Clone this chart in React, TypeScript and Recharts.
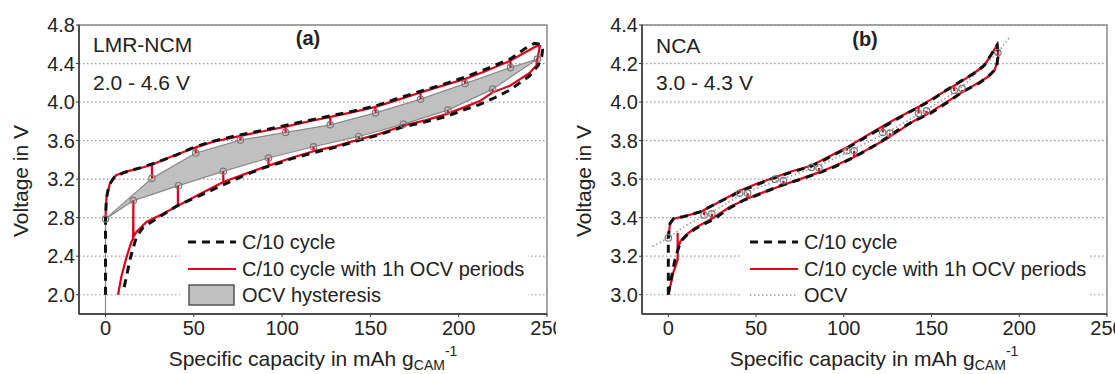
import React from 'react';
import {
  Area,
  CartesianGrid,
  ComposedChart,
  Label,
  Legend,
  Line,
  ReferenceArea,
  Scatter,
  XAxis,
  YAxis,
} from 'recharts';

// [capacity in mAh/g, voltage in V]

// panel (a) LMR-NCM, 2.0 - 4.6 V
const lmrCycle: number[][] = [
  [0, 2.0], [0, 2.79], [0.5, 3.0], [2, 3.14], [5, 3.22], [10, 3.265], [20, 3.32], [30, 3.38],
  [40, 3.45], [50, 3.53], [60, 3.59], [75, 3.655], [90, 3.71], [100, 3.75], [115, 3.81],
  [127, 3.855], [140, 3.905], [153, 3.96], [165, 4.035], [178, 4.11], [190, 4.175],
  [203, 4.255], [215, 4.34], [229, 4.445], [238, 4.56], [243, 4.61], [246.5, 4.6],
  [247.5, 4.54], [247, 4.47], [245, 4.38], [240, 4.27], [234.6, 4.2], [229, 4.125],
  [221, 4.05], [212, 3.975], [203, 3.92], [193, 3.85], [180, 3.79], [168, 3.74], [155, 3.66],
  [143, 3.6], [130, 3.53], [118, 3.475], [105, 3.41], [99, 3.37], [90, 3.32], [80, 3.25],
  [66.6, 3.14], [53.4, 3.03], [40.2, 2.92], [28.9, 2.79], [21.3, 2.7], [17.5, 2.6],
  [15.6, 2.48], [13.8, 2.36], [11.9, 2.19], [10, 2.03],
];

const lmrCycleOcv: number[][] = [
  [0, 2.787], [0.5, 3.0], [2.4, 3.15], [6, 3.24], [12, 3.28], [19, 3.31],
  [26.3, 3.35], [26.3, 3.208], [26.3, 3.35], [34.5, 3.415], [42, 3.467],
  [51.1, 3.53], [51.1, 3.471], [51.1, 3.53], [61, 3.588],
  [76.4, 3.648], [76.4, 3.605], [76.4, 3.648], [90, 3.7],
  [102, 3.745], [102, 3.685], [102, 3.745], [115, 3.8],
  [127.3, 3.845], [127.3, 3.764], [127.3, 3.845], [140, 3.895],
  [152.9, 3.95], [152.9, 3.888], [152.9, 3.95], [165, 4.02],
  [178.4, 4.1], [178.4, 4.03], [178.4, 4.1], [190, 4.165],
  [203.6, 4.24], [203.6, 4.192], [203.6, 4.24], [215, 4.32],
  [229.3, 4.43], [229.3, 4.358], [229.3, 4.43], [238, 4.52], [244, 4.58], [246, 4.58],
  [244.6, 4.447], [244, 4.38], [240, 4.3], [235, 4.24], [229, 4.17],
  [219.2, 4.1], [219.2, 4.134], [219.2, 4.1], [212, 4.01], [203, 3.945],
  [193.9, 3.88], [193.9, 3.916], [193.9, 3.88], [181, 3.81],
  [168.7, 3.755], [168.7, 3.771], [168.7, 3.755], [155, 3.67],
  [143.4, 3.61], [143.4, 3.643], [143.4, 3.61], [130, 3.54],
  [117.8, 3.49], [117.8, 3.536], [117.8, 3.49], [105, 3.42],
  [92.3, 3.34], [92.3, 3.419], [92.3, 3.34], [80, 3.26],
  [66.7, 3.17], [66.7, 3.281], [66.7, 3.17], [53, 3.04],
  [41, 2.925], [41, 3.132], [41, 2.925], [32.6, 2.84], [23.2, 2.756], [17.5, 2.652],
  [15.8, 2.6], [15.8, 2.977], [15.6, 2.58], [14.7, 2.55], [11.9, 2.39], [9, 2.19], [7.1, 2.0],
];

const lmrOcvCharge: number[][] = [
  [0, 2.787], [26.3, 3.208], [51.1, 3.471], [76.4, 3.605], [102, 3.685], [127.3, 3.764],
  [152.9, 3.888], [178.4, 4.03], [203.6, 4.192], [229.3, 4.358], [244.6, 4.447],
];

const lmrOcvDischarge: number[][] = [
  [15.8, 2.977], [41.4, 3.132], [66.7, 3.281], [92.3, 3.419], [117.8, 3.536],
  [143.4, 3.643], [168.7, 3.771], [193.9, 3.916], [219.2, 4.134],
];

// panel (b) NCA, 3.0 - 4.3 V
const ncaCycle: number[][] = [
  [0, 3.0], [0, 3.3], [1, 3.37], [3, 3.395], [8.5, 3.405], [18, 3.43], [27.6, 3.475],
  [40.8, 3.535], [50, 3.57], [59.8, 3.605], [70, 3.635], [80.7, 3.665], [90, 3.705],
  [101.6, 3.76], [112, 3.815], [122.4, 3.87], [130, 3.91], [139.5, 3.958], [150, 4.01],
  [158.5, 4.062], [167, 4.11], [175.6, 4.157], [180, 4.19], [183.2, 4.235], [187.4, 4.296],
  [188, 4.25], [187.4, 4.2], [186, 4.166], [182, 4.13], [177.5, 4.1], [168, 4.055],
  [158.5, 3.995], [150, 3.945], [139.5, 3.9], [130, 3.85], [120.6, 3.79], [110, 3.735],
  [105.4, 3.712], [95, 3.665], [84.5, 3.628], [75, 3.598], [63.6, 3.565], [50, 3.515],
  [42.7, 3.49], [35, 3.45], [25.6, 3.39], [20, 3.365], [15, 3.34], [10, 3.305], [7, 3.275],
  [5, 3.22], [3.5, 3.17], [2, 3.1], [0.5, 3.03], [0, 3.0],
];

const ncaCycleOcv: number[][] = [
  [0, 3.295], [1, 3.37], [3, 3.395], [8.5, 3.405], [18, 3.43],
  [20.4, 3.44], [20.4, 3.414], [20.4, 3.44], [27.6, 3.475],
  [40.7, 3.54], [40.7, 3.527], [40.7, 3.54], [50, 3.575],
  [60.9, 3.61], [60.9, 3.6], [60.9, 3.61], [70, 3.64],
  [81.5, 3.67], [81.5, 3.661], [81.5, 3.67], [90, 3.71],
  [101.8, 3.765], [101.8, 3.747], [101.8, 3.765], [112, 3.82],
  [122.2, 3.875], [122.2, 3.842], [122.2, 3.875], [130, 3.915],
  [142.6, 3.975], [142.6, 3.941], [142.6, 3.975], [150, 4.015],
  [162.9, 4.085], [162.9, 4.058], [162.9, 4.085], [170, 4.125], [175.6, 4.16],
  [180, 4.19], [183.2, 4.235], [187.4, 4.296],
  [187.8, 4.257], [188, 4.23], [186, 4.166], [182, 4.13], [177.5, 4.105],
  [167.4, 4.05], [167.4, 4.062], [167.4, 4.05], [158.5, 4.0],
  [147.1, 3.935], [147.1, 3.955], [147.1, 3.935], [139.5, 3.9],
  [126.3, 3.82], [126.3, 3.839], [126.3, 3.82], [120.6, 3.79],
  [105.9, 3.715], [105.9, 3.747], [105.9, 3.715], [95, 3.67],
  [85.9, 3.635], [85.9, 3.658], [85.9, 3.635], [75, 3.6],
  [65.6, 3.57], [65.6, 3.592], [65.6, 3.57], [55, 3.535],
  [45.2, 3.5], [45.2, 3.527], [45.2, 3.5], [35, 3.455],
  [24.8, 3.395], [24.8, 3.42], [24.8, 3.395], [15, 3.345], [10, 3.31], [7, 3.28],
  [5.3, 3.24], [5.3, 3.32], [5.3, 3.18], [3, 3.12], [1.5, 3.06], [0, 3.0],
];

const ncaOcv: number[][] = [
  [-9, 3.25], [0, 3.295], [10, 3.36], [22.6, 3.417], [43, 3.527], [63.2, 3.596],
  [83.7, 3.66], [103.8, 3.747], [124.2, 3.84], [144.8, 3.948], [165.1, 4.06],
  [187.8, 4.257], [195, 4.343],
];

const ncaOcvPoints: number[][] = [
  [0, 3.295], [20.4, 3.414], [24.8, 3.42], [40.7, 3.527], [45.2, 3.527], [60.9, 3.6],
  [65.6, 3.592], [81.5, 3.661], [85.9, 3.658], [101.8, 3.747], [105.9, 3.747],
  [122.2, 3.842], [126.3, 3.839], [142.6, 3.941], [147.1, 3.955], [162.9, 4.06],
  [167.4, 4.07], [187.8, 4.257],
];

const capacityTicks = [0, 50, 100, 150, 200, 250];
const lmrVoltTicks = [2.0, 2.4, 2.8, 3.2, 3.6, 4.0, 4.4, 4.8];
const ncaVoltTicks = [3.0, 3.2, 3.4, 3.6, 3.8, 4.0, 4.2, 4.4];

const lmrLegend = ['C/10 cycle', 'C/10 cycle with 1h OCV periods', 'OCV hysteresis'];
const ncaLegend = ['C/10 cycle', 'C/10 cycle with 1h OCV periods', 'OCV'];

const FONT = '"Liberation Sans", Arial, Helvetica, sans-serif';
const INK = '#222';
const RED = '#e2001a';
const BLACK = '#111';

const toPoints = (arr: number[][]) => arr.map(([x, v]) => ({ x, v }));

// closed loop: charge OCV points out, discharge OCV points back
const lmrHysteresis = toPoints([
  [0, 1.8],
  ...lmrOcvCharge,
  ...[...lmrOcvDischarge].reverse(),
  lmrOcvCharge[0],
  [0, 1.8],
]);

const SAMPLES: Record<string, { stroke?: string; width?: number; dash?: string; box?: boolean }> = {
  'C/10 cycle': { stroke: BLACK, width: 3, dash: '8 6' },
  'C/10 cycle with 1h OCV periods': { stroke: RED, width: 2.2 },
  'OCV hysteresis': { box: true },
  OCV: { stroke: '#999', width: 1.6, dash: '1.5 2.5' },
};

const makeLegend = (order: string[]) => (props: any) => {
  const names = (props.payload ?? []).map((p: any) => String(p.value));
  const rows = order.filter((n) => names.includes(n));
  return (
    <div style={{ background: '#fff', padding: '1px 4px 2px 8px', fontFamily: FONT }}>
      {rows.map((n) => {
        const s = SAMPLES[n];
        return (
          <div key={n} style={{ display: 'flex', alignItems: 'center', height: 26.5 }}>
            <svg width={48} height={26} style={{ display: 'block' }}>
              {s.box ? (
                <rect x={1} y={3} width={45} height={20} fill="#c0c0c0" stroke="#555" strokeWidth={1.5} />
              ) : (
                <line x1={0} x2={48} y1={13} y2={13} stroke={s.stroke} strokeWidth={s.width} strokeDasharray={s.dash} />
              )}
            </svg>
            <span style={{ marginLeft: 6, fontSize: 20, color: INK, whiteSpace: 'nowrap', lineHeight: '26px' }}>{n}</span>
          </div>
        );
      })}
    </div>
  );
};

const openCircle = (p: any) => (
  <circle cx={p.cx} cy={p.cy} r={3.2} fill="none" stroke="#7a7a7a" strokeWidth={1.2} />
);

const capacityTitle = (cx: number) => () => (
  <text x={cx} y={366} textAnchor="middle" fontSize={21} fill={INK} fontFamily={FONT}>
    Specific capacity in mAh g
    <tspan fontSize={14} dy={4}>CAM</tspan>
    <tspan fontSize={14} dy={-14}>-1</tspan>
  </text>
);

const voltageTitle = (x: number) => () => (
  <text x={x} y={181} transform={`rotate(-90 ${x} 181)`} textAnchor="middle" dominantBaseline="central" fontSize={21} fill={INK} fontFamily={FONT}>
    Voltage in V
  </text>
);

const tickStyle = { fontSize: 20, fill: INK, fontFamily: FONT };
const axisLine = { stroke: '#333', strokeWidth: 1.5 };
const gridProps = { vertical: false, stroke: '#9a9a9a', strokeWidth: 1.2, strokeDasharray: '1.5 2.5' };

function App() {
  return (
    <div style={{ position: 'absolute', left: 0, top: 0, width: 1115, height: 374, background: '#fff', fontFamily: FONT }}>
      <div style={{ position: 'absolute', left: 0, top: 0 }}>
        <ComposedChart width={556} height={374} margin={{ top: 25, right: 9, bottom: 0, left: 0 }}>
          <CartesianGrid {...gridProps} />
          <XAxis dataKey="x" type="number" domain={[-15, 250]} ticks={capacityTicks} interval={0} allowDataOverflow
            height={60} tickSize={3} tickMargin={4} tick={tickStyle} axisLine={axisLine} tickLine={{ stroke: '#333' }}
            label={<Label content={capacityTitle(313)} />} />
          <YAxis dataKey="v" type="number" domain={[1.8, 4.8]} ticks={lmrVoltTicks} interval={0} allowDataOverflow
            width={79} tickSize={3} tickMargin={1} tick={tickStyle} axisLine={axisLine} tickLine={{ stroke: '#333' }}
            tickFormatter={(v: number) => v.toFixed(1)} label={<Label content={voltageTitle(20)} />} />
          <ReferenceArea x1={-15} x2={250} y1={1.8} y2={4.8} fill="none" stroke="#888" strokeWidth={1.5} />
          <Area data={lmrHysteresis} dataKey="v" name="OCV hysteresis" type="linear" fill="#c0c0c0" fillOpacity={1}
            stroke="#8a8a8a" strokeWidth={1.2} dot={false} activeDot={false} legendType="rect" isAnimationActive={false} />
          <Line data={toPoints(lmrCycleOcv)} dataKey="v" name="C/10 cycle with 1h OCV periods" type="linear" stroke={RED}
            strokeWidth={2.2} dot={false} activeDot={false} isAnimationActive={false} />
          <Line data={toPoints(lmrCycle)} dataKey="v" name="C/10 cycle" type="linear" stroke={BLACK} strokeWidth={3}
            strokeDasharray="8 6" dot={false} activeDot={false} isAnimationActive={false} />
          <Scatter data={toPoints([...lmrOcvCharge, ...lmrOcvDischarge])} dataKey="v" shape={openCircle}
            legendType="none" isAnimationActive={false} />
          <Legend layout="vertical" align="center" verticalAlign="middle" content={makeLegend(lmrLegend)}
            wrapperStyle={{ left: 180, top: 228, width: 'auto' }} />
        </ComposedChart>
      </div>

      <div style={{ position: 'absolute', left: 556, top: 0 }}>
        <ComposedChart width={559} height={374} margin={{ top: 25, right: 8, bottom: 0, left: 0 }}>
          <CartesianGrid {...gridProps} />
          <XAxis dataKey="x" type="number" domain={[-15, 250]} ticks={capacityTicks} interval={0} allowDataOverflow
            height={60} tickSize={3} tickMargin={4} tick={tickStyle} axisLine={axisLine} tickLine={{ stroke: '#333' }}
            label={<Label content={capacityTitle(318)} />} />
          <YAxis dataKey="v" type="number" domain={[2.9, 4.4]} ticks={ncaVoltTicks} interval={0} allowDataOverflow
            width={86} tickSize={3} tickMargin={1} tick={tickStyle} axisLine={axisLine} tickLine={{ stroke: '#333' }}
            tickFormatter={(v: number) => v.toFixed(1)} label={<Label content={voltageTitle(27)} />} />
          <ReferenceArea x1={-15} x2={250} y1={2.9} y2={4.4} fill="none" stroke="#888" strokeWidth={1.5} />
          <Line data={toPoints(ncaOcv)} dataKey="v" name="OCV" type="linear" stroke="#999" strokeWidth={1.6}
            strokeDasharray="1.5 2.5" dot={false} activeDot={false} isAnimationActive={false} />
          <Line data={toPoints(ncaCycleOcv)} dataKey="v" name="C/10 cycle with 1h OCV periods" type="linear" stroke={RED}
            strokeWidth={2.2} dot={false} activeDot={false} isAnimationActive={false} />
          <Line data={toPoints(ncaCycle)} dataKey="v" name="C/10 cycle" type="linear" stroke={BLACK} strokeWidth={3}
            strokeDasharray="8 6" dot={false} activeDot={false} isAnimationActive={false} />
          <Scatter data={toPoints(ncaOcvPoints)} dataKey="v" shape={openCircle} legendType="none" isAnimationActive={false} />
          <Legend layout="vertical" align="center" verticalAlign="middle" content={makeLegend(ncaLegend)}
            wrapperStyle={{ left: 186, top: 228, width: 'auto' }} />
        </ComposedChart>
      </div>

      <svg width={1115} height={374} style={{ position: 'absolute', left: 0, top: 0, pointerEvents: 'none' }}>
        <g fontFamily={FONT} fill={INK}>
          <text x={93} y={52} fontSize={21}>LMR-NCM</text>
          <text x={93} y={90} fontSize={21}>2.0 - 4.6 V</text>
          <text x={308} y={44.5} fontSize={20} fontWeight="bold" textAnchor="middle">(a)</text>
          <text x={656} y={53} fontSize={21}>NCA</text>
          <text x={656} y={90} fontSize={21}>3.0 - 4.3 V</text>
          <text x={865} y={46} fontSize={20} fontWeight="bold" textAnchor="middle">(b)</text>
        </g>
      </svg>
    </div>
  );
}

export default App;
